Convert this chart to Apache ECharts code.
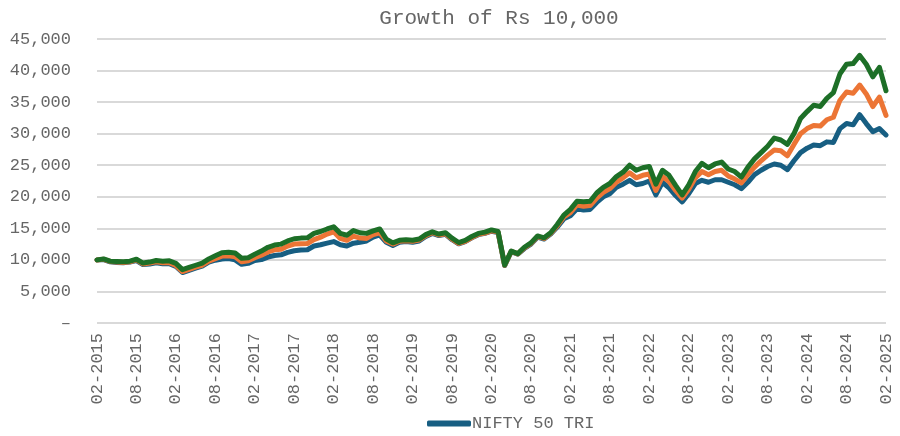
<!DOCTYPE html>
<html>
<head>
<meta charset="utf-8">
<script src="https://cdn.jsdelivr.net/npm/echarts@6/dist/echarts.min.js"></script>
<style>html,body{margin:0;padding:0;background:#fff}#c{width:900px;height:436px}</style>
</head>
<body>
<div id="c"></div>
<script>
// monthly samples, month 0 = Feb 2015 ... month 120 = Feb 2025
const tickLabels = ['02-2015','08-2015','02-2016','08-2016','02-2017','08-2017','02-2018','08-2018','02-2019','08-2019','02-2020','08-2020','02-2021','08-2021','02-2022','08-2022','02-2023','08-2023','02-2024','08-2024','02-2025'];
const seriesNames = ['NIFTY 50 TRI', 'Series 2', 'Series 3'];
const blue = [10000,10050,9700,9600,9550,9650,9900,9250,9350,9550,9400,9400,8950,8000,8350,8700,9000,9650,9950,10150,10200,10000,9300,9450,9900,10050,10450,10700,10800,11200,11450,11550,11600,12200,12400,12650,12900,12400,12200,12650,12800,13000,13600,13950,12800,12300,12800,12900,12800,13000,13700,14200,13850,14050,13200,12550,12900,13500,14000,14200,14550,14350,9100,11300,10900,11800,12500,13600,13300,14100,15200,16500,17000,18100,17900,18000,19100,20000,20500,21500,22000,22600,21900,22100,22500,20300,22300,21400,20200,19200,20500,22100,22600,22300,22700,22700,22300,21900,21300,22300,23500,24200,24800,25200,25000,24300,25700,27000,27700,28200,28100,28700,28600,30800,31600,31400,33000,31600,30300,30800,29800];
const orange = [10000,10100,9750,9650,9600,9700,10000,9350,9500,9700,9550,9550,9100,8150,8500,8850,9150,9800,10200,10600,10650,10500,9700,9850,10350,10750,11250,11600,11700,12200,12500,12550,12600,13200,13600,14100,14450,13400,13100,13750,13450,13400,14000,14300,13000,12500,12950,13050,12950,13150,13850,14300,13950,14150,13300,12600,12950,13550,14050,14250,14600,14400,9150,11350,10950,11900,12600,13700,13400,14200,15400,16800,17500,18700,18500,18600,19800,20700,21300,22300,23000,23800,23000,23400,23600,21000,23200,22400,21000,19800,21200,23000,24000,23500,24000,24200,23300,22800,22200,23500,24700,25700,26600,27400,27300,26500,28300,30000,30800,31300,31200,32200,32600,35300,36600,36400,37700,36300,34300,35800,32900];
const green = [10000,10150,9800,9750,9700,9800,10100,9500,9650,9900,9800,9850,9450,8450,8800,9150,9500,10150,10650,11150,11200,11100,10250,10350,10900,11400,12000,12350,12500,13000,13350,13450,13500,14200,14500,14900,15250,14200,13900,14650,14300,14200,14600,14900,13300,12700,13100,13200,13100,13300,14000,14450,14100,14300,13450,12750,13100,13700,14200,14400,14750,14500,9200,11400,11000,12000,12700,13800,13500,14300,15600,17100,18000,19300,19200,19300,20600,21500,22100,23200,23900,25000,24200,24600,24800,22000,24200,23400,21800,20300,21900,24000,25300,24600,25200,25500,24400,24000,23100,24700,26000,27000,28000,29300,29000,28300,30000,32400,33500,34500,34300,35600,36500,39500,41000,41100,42400,41000,39000,40500,36800];

const colors = ['#175e82', '#ec7535', '#1d6f27'];
const FONT = '"Liberation Mono", "DejaVu Sans Mono", monospace';
const toPairs = arr => arr.map((v, i) => [i, v]);

const chart = echarts.init(document.getElementById('c'), null, {renderer: 'canvas'});
chart.setOption({
  animation: false,
  backgroundColor: '#fff',
  title: {
    text: 'Growth of Rs 10,000',
    left: 494, top: 3, textAlign: 'center',
    textStyle: {fontFamily: FONT, fontSize: 21, fontWeight: 'normal', color: '#666666'}
  },
  legend: {
    data: [{name: 'NIFTY 50 TRI', icon: 'roundRect'}],
    left: 422, top: 410,
    itemWidth: 44, itemHeight: 6, itemGap: 4,
    textStyle: {fontFamily: FONT, fontSize: 17, color: '#666666', padding: [0,0,0,-4]}
  },
  grid: {left: 97, right: 14, top: 39, bottom: 113, containLabel: false},
  xAxis: {
    type: 'value', min: 0, max: 120, interval: 6,
    axisLine: {show: false}, axisTick: {show: false}, splitLine: {show: false},
    axisLabel: {
      rotate: 90, margin: 10, showMinLabel: true, showMaxLabel: true,
      fontFamily: FONT, fontSize: 17, color: '#666666',
      formatter: v => tickLabels[Math.round(v / 6)] || ''
    }
  },
  yAxis: {
    type: 'value', min: 0, max: 45000, interval: 5000,
    axisLine: {show: false}, axisTick: {show: false},
    splitLine: {lineStyle: {color: '#d9d9d9', width: 2}},
    axisLabel: {
      margin: 26, fontFamily: FONT, fontSize: 17, color: '#666666',
      formatter: v => v === 0 ? '–' : v.toLocaleString('en-US')
    }
  },
  series: [blue, orange, green].map((arr, k) => ({
    name: seriesNames[k], type: 'line', data: toPairs(arr),
    showSymbol: false, symbol: 'none', smooth: false,
    lineStyle: {color: colors[k], width: 5, cap: 'round', join: 'round'},
    itemStyle: {color: colors[k]}, z: 2 + k
  }))
});
</script>
</body>
</html>
